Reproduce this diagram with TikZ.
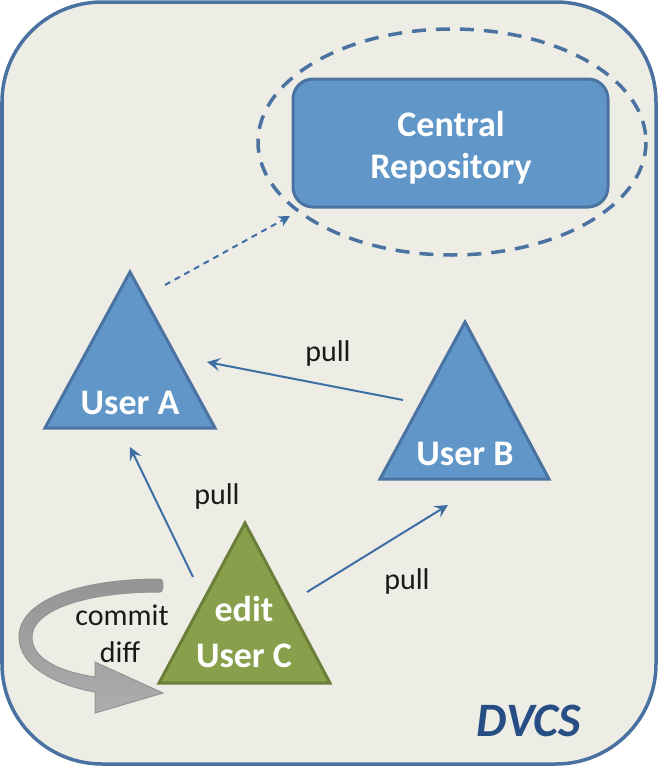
\documentclass[tikz,border=0pt]{standalone}
\usepackage{fontspec}
\setmainfont{Carlito}
\usetikzlibrary{arrows.meta}
\definecolor{bgfill}{HTML}{EEEDE5}
\definecolor{frameblue}{HTML}{4A72A0}
\definecolor{boxfill}{HTML}{6096C8}
\definecolor{boxdraw}{HTML}{4A73A2}
\definecolor{linkblue}{HTML}{3D6FA5}
\definecolor{greenfill}{HTML}{88A04C}
\definecolor{greendraw}{HTML}{6B7F3A}
\definecolor{dvcsblue}{HTML}{264D84}
\tikzset{
  bigtext/.style={font=\fontsize{36}{42}\bfseries\selectfont, text=white, align=center, inner sep=0pt},
  labeltext/.style={font=\fontsize{30}{34}\selectfont, text=black!90, align=center, inner sep=0pt},
  bluetri/.style={fill=boxfill, draw=boxdraw, line width=3pt, line join=miter},
  greentri/.style={fill=greenfill, draw=greendraw, line width=3pt, line join=miter},
  pullarrow/.style={draw=linkblue, line width=2pt, -{Stealth[length=13pt,width=13pt,inset=5pt]}},
  dotarrow/.style={draw=linkblue, line width=2pt, dash pattern=on 6pt off 5pt, -{Stealth[length=11pt,width=11pt,inset=3pt]}}
}
\begin{document}
\begin{tikzpicture}[x=1pt,y=-1pt]
\useasboundingbox (0,0) rectangle (658,766);
% frame
\draw[fill=bgfill, draw=frameblue, line width=3.5pt, rounded corners=100pt] (2,2) rectangle (656,764);
% central repository
\node[fill=boxfill, draw=boxdraw, line width=3pt, rounded corners=20pt,
      minimum width=315pt, minimum height=128pt] (repo) at (450.5,143) {};
\node[bigtext] (repoText) at (451,148) {Central\\Repository};
\draw[draw=boxdraw, line width=3.5pt, dash pattern=on 14pt off 10pt] (452,142) ellipse [x radius=194, y radius=113];
% triangles
\draw[bluetri] (130,272) -- (215,428) -- (45,428) -- cycle;
\node[bigtext] (userA) at (130,403) {User A};
\draw[bluetri] (465,322) -- (549,479) -- (380,479) -- cycle;
\node[bigtext] (userB) at (465,454) {User B};
\draw[greentri] (245,523) -- (330,683) -- (159,683) -- cycle;
\node[bigtext] (edit) at (244,609) {edit};
\node[bigtext] (userC) at (244,656) {User C};
% connector endpoints
\coordinate (aTop) at (165,285);
\coordinate (repoIn) at (290,216);
\coordinate (bOut) at (403,400);
\coordinate (aRight) at (207,362);
\coordinate (cLeft) at (193,577);
\coordinate (aBottom) at (130,447);
\coordinate (cRight) at (307,592);
\coordinate (bBottom) at (448,505);
% connectors
\draw[dotarrow] (aTop) -- (repoIn);
\draw[pullarrow] (bOut) -- (aRight);
\draw[pullarrow] (cLeft) -- (aBottom);
\draw[pullarrow] (cRight) -- (bBottom);
% labels
\node[labeltext] (pullBA) at (328,353) {pull};
\node[labeltext] (pullCA) at (217,496) {pull};
\node[labeltext] (pullCB) at (407,581) {pull};
% gray commit arrow
\path[top color=black!42, bottom color=black!32, draw=black!42, line width=1pt]
  (160,579) .. controls (80,579) and (19,600) .. (19,637)
  .. controls (19,668) and (60,686) .. (95,692)
  -- (95,713) -- (163,693) -- (95,662) -- (95,677)
  .. controls (62,672) and (32,660) .. (32,637)
  .. controls (32,612) and (80,592) .. (160,592)
  .. controls (164,592) and (164,579) .. (160,579) -- cycle;
\node[labeltext] (commit) at (122,615) {commit};
\node[labeltext] (diff) at (120,652) {diff};
% DVCS
\node[font=\fontsize{48}{52}\bfseries\itshape\selectfont, text=dvcsblue, inner sep=0pt] (dvcs) at (529,721) {DVCS};
\end{tikzpicture}
\end{document}
